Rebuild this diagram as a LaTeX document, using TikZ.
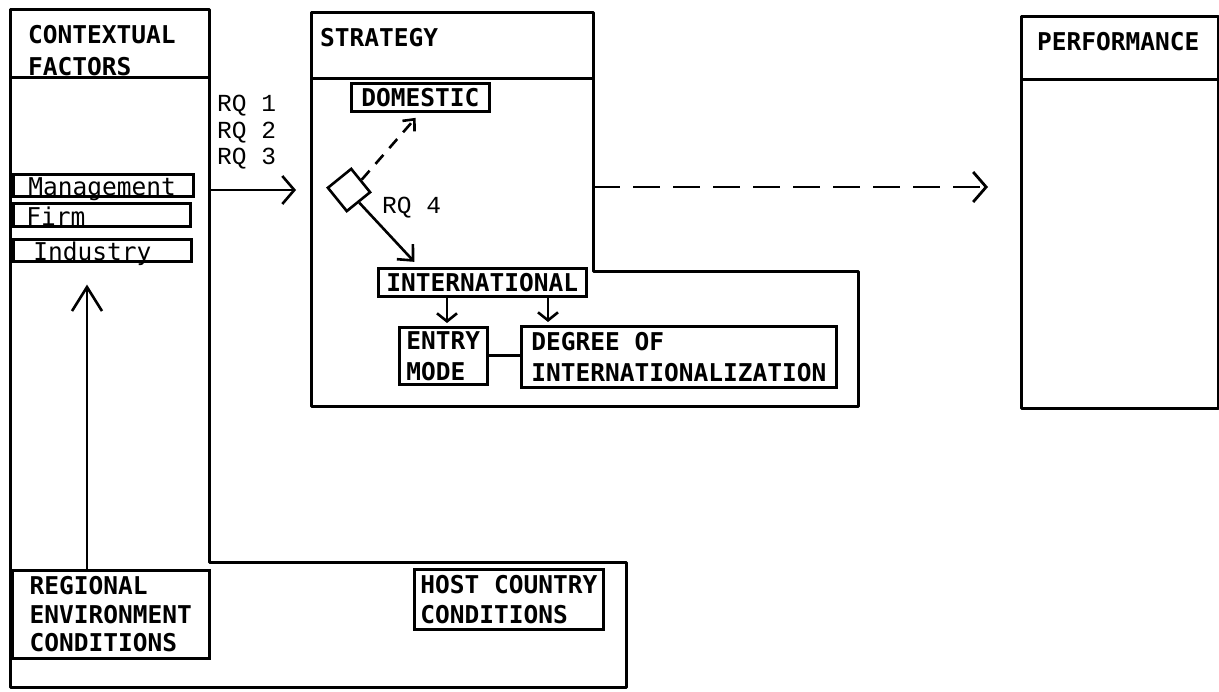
\documentclass[tikz,border=0pt]{standalone}
\usepackage{fontspec}
\newfontfamily\tw{DejaVu Sans Mono}
\newfontfamily\cour{Liberation Mono}
\usetikzlibrary{arrows.meta,calc}
\begin{document}
\begin{tikzpicture}[x=1pt,y=-1pt,
  outline/.style={line width=3pt, line join=round},
  conn/.style={line width=2.6pt},
  dashconn/.style={line width=2.8pt, dash pattern=on 27pt off 13pt},
  box/.style={draw, line width=2.6pt, inner sep=0pt, anchor=north west, align=left,
    font={\tw\bfseries\fontsize{24.5}{31}\selectfont}},
  lowbox/.style={draw, line width=2.6pt, inner ysep=0pt, anchor=north west, align=left,
    text depth=0pt, font={\tw\fontsize{24.5}{31}\selectfont}},
  hdr/.style={inner sep=0pt, anchor=north west, align=left,
    font={\tw\bfseries\fontsize{24.5}{32}\selectfont}},
  rqlbl/.style={inner sep=0pt, anchor=north west, align=left,
    font={\cour\fontsize{24.5}{26.5}\selectfont}}
]
\fill[white] (0,0) rectangle (1219,692);
\useasboundingbox (0,0) rectangle (1219,692);

% contextual factors outline
\draw[outline] (10,10) -- (209,10) -- (209,562) -- (626,562) -- (626,687) -- (10,687) -- cycle;
\draw[outline] (10,78) -- (209,78);
\node[hdr] (ctxt) at (28,25) {CONTEXTUAL\\FACTORS};

% strategy outline
\draw[outline] (311,13) -- (593,13) -- (593,272) -- (858,272) -- (858,407) -- (311,407) -- cycle;
\draw[outline] (311,79) -- (593,79);
\node[hdr] (strt) at (320,28) {STRATEGY};

% performance
\node[draw, outline, inner sep=0pt, minimum width=197pt, minimum height=392pt, anchor=north west] (perf) at (1020,15) {};
\draw[outline] ($(perf.north west)+(0,65)$) -- ($(perf.north east)+(0,65)$);
\node[hdr] (perft) at (1037,32) {PERFORMANCE};

% contextual sub-boxes
\node[lowbox, inner xsep=15pt, text width=150pt, text height=21pt, minimum height=22pt] (mgmt) at (12,173) {Management};
\node[lowbox, inner xsep=13pt, text width=151pt, text height=22pt, minimum height=23pt] (firm) at (12,202) {Firm};
\node[lowbox, inner xsep=20pt, text width=138pt, text height=21pt, minimum height=22pt] (ind) at (12,238) {Industry};

% regional and host
\node[box, minimum width=197pt, minimum height=88pt, font={\tw\bfseries\fontsize{24.5}{28.5}\selectfont}] (reg) at (11,569) {REGIONAL\\ENVIRONMENT\\CONDITIONS};
\node[box, minimum width=189pt, minimum height=60pt, font={\tw\bfseries\fontsize{24.5}{30}\selectfont}] (host) at (413,568) {HOST COUNTRY\\CONDITIONS};

% strategy sub-boxes
\node[box, minimum width=138pt, minimum height=28pt] (dom) at (350,82) {DOMESTIC};
\node[box, minimum width=208pt, minimum height=28pt] (intl) at (377,267) {INTERNATIONAL};
\node[box, minimum width=88pt, minimum height=57pt] (entry) at (398,326) {ENTRY\\MODE};
\node[box, minimum width=315pt, minimum height=61pt] (deg) at (520,325) {DEGREE OF\\INTERNATIONALIZATION};

\node[draw, line width=2.6pt, minimum size=30pt, inner sep=0pt, rotate=39] (dia) at (349,190) {};

% labels
\node[rqlbl] (rq) at (217,95) {RQ 1\\RQ 2\\RQ 3};
\node[rqlbl] (rq4) at (382,197) {RQ 4};

% connectors
\coordinate (ctxR) at (209,190);
\coordinate (strL) at (311,190);
\coordinate (strR) at (593,187);
\draw[conn, -{Straight Barb[length=12pt,width=28pt]}, shorten >=15pt] (ctxR) -- (strL);
\draw[dashconn, -{Straight Barb[length=13pt,width=30pt]}, shorten >=32pt] (strR) -- (strR -| perf.west);
\draw[conn, -{Straight Barb[length=24pt,width=30pt]}, shorten >=22pt] ($(reg.north west)+(76,0)$) -- ($(ind.south west)+(75,0)$);
\draw[line width=2.6pt, dash pattern=on 12pt off 9pt, -{Straight Barb[length=9pt,width=16pt]}, shorten >=7pt] (dia.east) -- (dom.south);
\draw[conn, -{Straight Barb[length=12pt,width=22pt]}, shorten >=7pt] (dia.south) -- ($(intl.north west)!0.2!(intl.north east)$);
\draw[conn, -{Straight Barb[length=8pt,width=20pt]}, shorten >=3pt] ($(intl.south west)+(70,0)$) -- ($(entry.north west)+(49,0)$);
\draw[conn, -{Straight Barb[length=8pt,width=20pt]}, shorten >=3pt] ($(intl.south west)+(171,0)$) -- ($(deg.north west)+(28,0)$);
\draw[conn] (entry.east) -- (entry.east -| deg.west);
\end{tikzpicture}
\end{document}
